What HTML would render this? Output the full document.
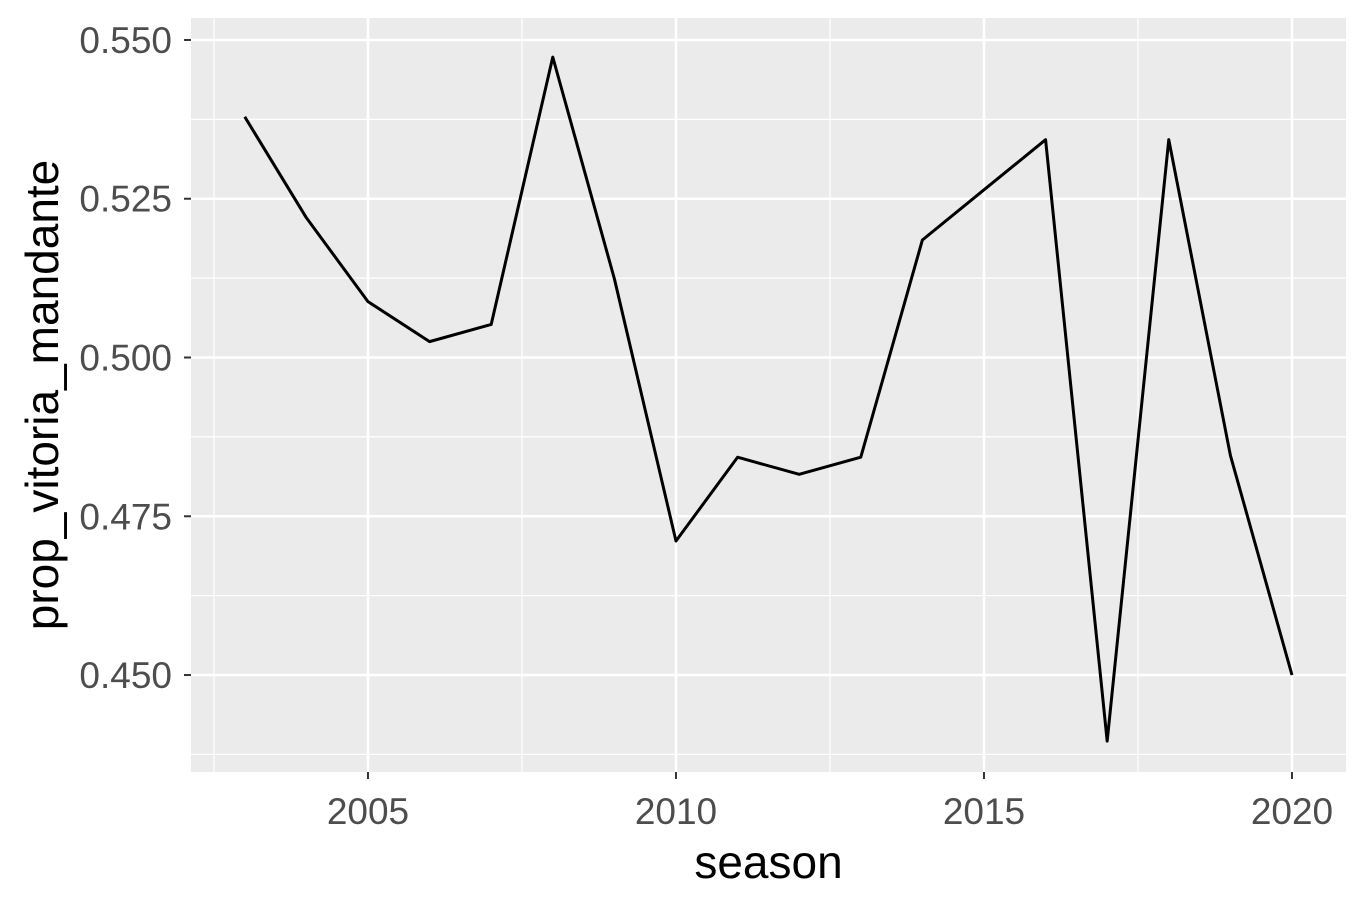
<!DOCTYPE html>
<html><head><meta charset="utf-8"><style>
body{margin:0;background:#fff;}
svg{display:block;font-family:"Liberation Sans",Arial,sans-serif;}
</style></head><body>
<svg id="chart" width="1368" height="909"></svg>
<script>
const seasons=[2003,2004,2005,2006,2007,2008,2009,2010,2011,2012,2013,2014,2015,2016,2017,2018,2019,2020];
const propValues=[0.5379,0.5220,0.5088,0.5025,0.5052,0.5473,0.5124,0.4711,0.4843,0.4816,0.4843,0.5185,0.5264,0.5343,0.4396,0.5343,0.4846,0.4500];
const xTicks=[2005,2010,2015,2020];
const xMinor=[2002.5,2007.5,2012.5,2017.5];
const yTicks=[0.450,0.475,0.500,0.525,0.550];
const yMinor=[0.4375,0.4625,0.4875,0.5125,0.5375];
const yTickLabels=["0.450","0.475","0.500","0.525","0.550"];

const L=191,R=1346,T=18,B=772;
const xMin=2002.127,xMax=2020.877,yMin=0.43473,yMax=0.55346;
const sx=v=>L+(v-xMin)/(xMax-xMin)*(R-L);
const sy=v=>B-(v-yMin)/(yMax-yMin)*(B-T);
const NS="http://www.w3.org/2000/svg";
const svg=document.getElementById('chart');
function mk(tag,attrs,parent){const e=document.createElementNS(NS,tag);for(const k in attrs)e.setAttribute(k,attrs[k]);(parent||svg).appendChild(e);return e;}

const panel=mk('rect',{x:L,y:T,width:R-L,height:B-T,fill:'#ebebeb'});



xMinor.forEach(v=>{const l=mk('line',{x1:sx(v),x2:sx(v),y1:T,y2:B,stroke:'#fff','stroke-width':1.2});

});
yMinor.forEach(v=>{const l=mk('line',{x1:L,x2:R,y1:sy(v),y2:sy(v),stroke:'#fff','stroke-width':1.2});

});
xTicks.forEach(v=>{const l=mk('line',{x1:sx(v),x2:sx(v),y1:T,y2:B,stroke:'#fff','stroke-width':2.5});


const t=mk('line',{x1:sx(v),x2:sx(v),y1:B,y2:B+7,stroke:'#333','stroke-width':2});


const tx=mk('text',{x:sx(v),y:824,'text-anchor':'middle','font-size':37,fill:'#4d4d4d'});tx.textContent=v;

});
yTicks.forEach((v,i)=>{const l=mk('line',{x1:L,x2:R,y1:sy(v),y2:sy(v),stroke:'#fff','stroke-width':2.5});


const t=mk('line',{x1:L-7,x2:L,y1:sy(v),y2:sy(v),stroke:'#333','stroke-width':2});


const tx=mk('text',{x:L-19,y:sy(v)+13,'text-anchor':'end','font-size':37,fill:'#4d4d4d'});tx.textContent=yTickLabels[i];

});

const pts=seasons.map((s,i)=>sx(s)+','+sy(propValues[i])).join(' ');
const line=mk('polyline',{points:pts,fill:'none',stroke:'#000','stroke-width':3,'stroke-linejoin':'round'});



const xt=mk('text',{x:(L+R)/2,y:878,'text-anchor':'middle','font-size':46,fill:'#000'});xt.textContent='season';


const yt=mk('text',{x:0,y:0,'text-anchor':'middle','font-size':46,fill:'#000',transform:'translate(58,'+((T+B)/2)+') rotate(-90)'});yt.textContent='prop_vitoria_mandante';


</script>
</body></html>
